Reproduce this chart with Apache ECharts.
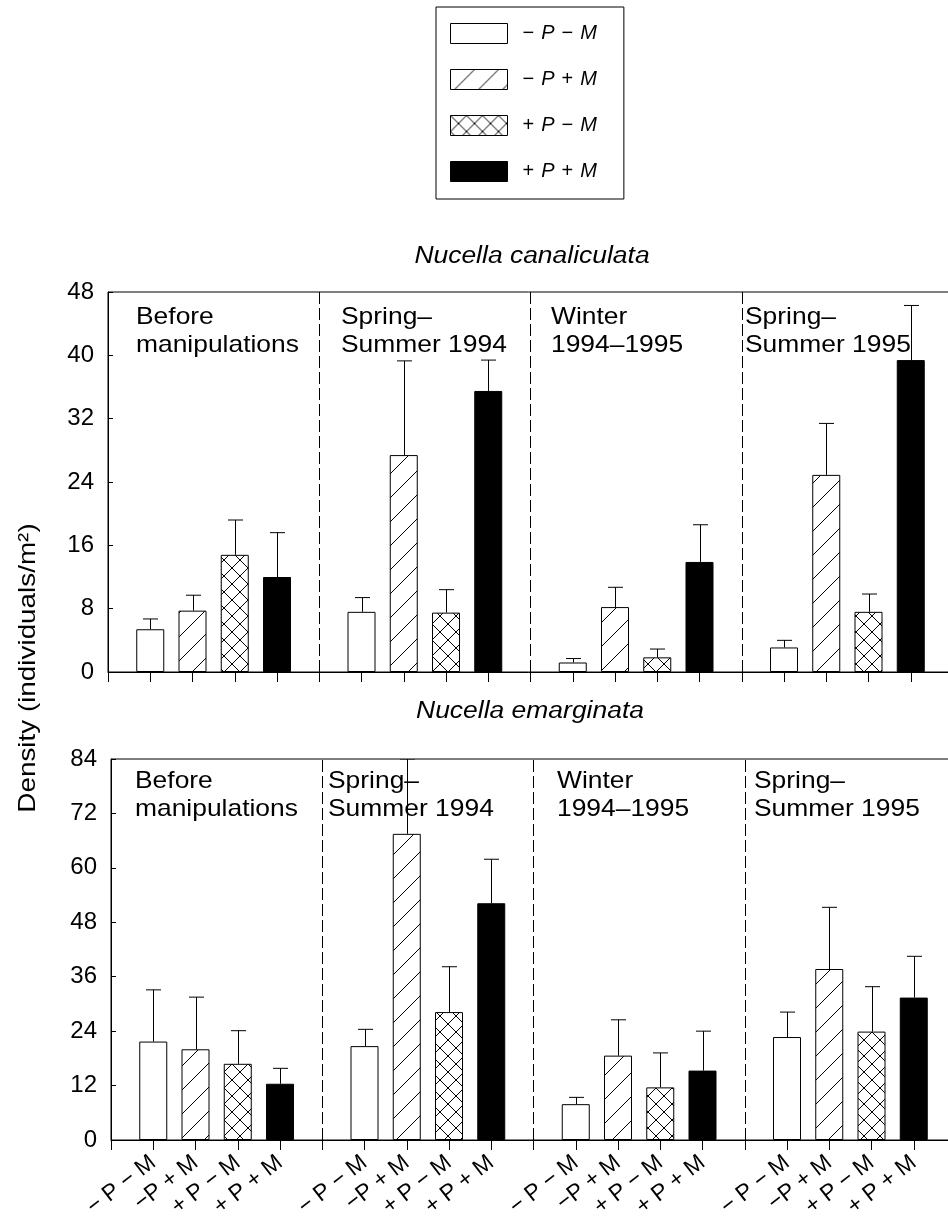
<!DOCTYPE html>
<html>
<head>
<meta charset="utf-8">
<script src="https://cdn.jsdelivr.net/npm/echarts@6/dist/echarts.min.js"></script>
<style>
  html, body { margin: 0; padding: 0; background: #fff; }
  #main { width: 948px; height: 1220px; }
</style>
</head>
<body>
<div id="main"></div>
<script>
// treatments and sampling periods
const treatments = ['− P − M', '−P + M', '+ P − M', '+ P + M'];
const periods = ['Before\nmanipulations', 'Spring–\nSummer 1994', 'Winter\n1994–1995', 'Spring–\nSummer 1995'];

// Nucella canaliculata: mean density per period, and top of error bar
const canalNoPNoM = [5.4, 7.6, 1.2, 3.1];
const canalNoPM   = [7.75, 27.4, 8.2, 24.9];
const canalPNoM   = [14.8, 7.5, 1.85, 7.6];
const canalPM     = [12.0, 35.5, 13.9, 39.4];
const canalNoPNoMTop = [6.7, 9.4, 1.7, 4.0];
const canalNoPMTop   = [9.7, 39.3, 10.7, 31.4];
const canalPNoMTop   = [19.2, 10.4, 2.9, 9.85];
const canalPMTop     = [17.6, 39.4, 18.6, 46.3];

// Nucella emarginata
const emargNoPNoM = [21.7, 20.7, 7.9, 22.7];
const emargNoPM   = [20.0, 67.5, 18.6, 37.7];
const emargPNoM   = [16.8, 28.2, 11.6, 23.9];
const emargPM     = [12.4, 52.2, 15.3, 31.4];
const emargNoPNoMTop = [33.1, 24.4, 9.4, 28.2];
const emargNoPMTop   = [31.5, 84, 26.5, 51.3];
const emargPNoMTop   = [24.1, 38.2, 19.2, 33.8];
const emargPMTop     = [15.8, 61.9, 24.0, 40.5];

const canalTicks = [0, 8, 16, 24, 32, 40, 48];
const emargTicks = [0, 12, 24, 36, 48, 60, 72, 84];

const FONT = '"Liberation Sans", Arial, sans-serif';

// hatch fills
function hatch(size, cross) {
  const c = document.createElement('canvas');
  c.width = c.height = size;
  const ctx = c.getContext('2d');
  ctx.fillStyle = '#fff';
  ctx.fillRect(0, 0, size, size);
  ctx.strokeStyle = '#000';
  ctx.lineWidth = 1;
  ctx.beginPath();
  for (const o of [-size, 0, size]) {
    ctx.moveTo(o, size); ctx.lineTo(o + size, 0);
    if (cross) { ctx.moveTo(o, 0); ctx.lineTo(o + size, size); }
  }
  ctx.stroke();
  return c;
}
const fills = [
  '#fff',
  { image: hatch(24, false), repeat: 'repeat' },
  { image: hatch(16, true), repeat: 'repeat' },
  '#000'
];

// x position of bar i in period g: groups of 5 slots, separators at 5, 10, 15
const xpos = (g, i) => g * 5 + i + 1;

const chart = echarts.init(document.getElementById('main'));

function barSeries(gi, name, i, vals, withSep) {
  const s = {
    type: 'bar',
    name: name,
    xAxisIndex: gi,
    yAxisIndex: gi,
    barWidth: 28,
    barGap: '-100%',
    data: vals.map((v, g) => [xpos(g, i), v]),
    itemStyle: { color: fills[i], borderColor: '#000', borderWidth: 1 },
    emphasis: { disabled: true },
    z: 3
  };
  if (withSep) {
    s.markLine = {
      silent: true,
      symbol: 'none',
      label: { show: false },
      lineStyle: { color: '#000', type: [12, 4], width: 1 },
      data: [{ xAxis: 5 }, { xAxis: 10 }, { xAxis: 15 }]
    };
  }
  return s;
}

function errSeries(gi, i, vals, tops) {
  return {
    type: 'custom',
    xAxisIndex: gi,
    yAxisIndex: gi,
    clip: true,
    silent: true,
    z: 4,
    data: vals.map((v, g) => [xpos(g, i), v, tops[g]]),
    renderItem: (params, api) => {
      const p0 = api.coord([api.value(0), api.value(1)]);
      const p1 = api.coord([api.value(0), api.value(2)]);
      const x = Math.round(p0[0]) + 0.5;
      const st = { stroke: '#000', lineWidth: 1 };
      return {
        type: 'group',
        children: [
          { type: 'line', shape: { x1: x, y1: p0[1], x2: x, y2: p1[1] }, style: st },
          { type: 'line', shape: { x1: x - 7.5, y1: p1[1], x2: x + 7.5, y2: p1[1] }, style: st }
        ]
      };
    }
  };
}

function xAxisFor(gi, showLabels) {
  return {
    type: 'value',
    gridIndex: gi,
    min: 0,
    max: 20,
    interval: 1,
    splitLine: { show: false },
    axisLine: { lineStyle: { color: '#000', width: 1 } },
    axisTick: { length: 10, lineStyle: { color: '#000' } },
    axisLabel: {
      show: showLabels,
      rotate: 38,
      margin: 20,
      fontSize: 23,
      fontFamily: FONT,
      color: '#000',
      formatter: v => (v % 5 === 0 ? '' : treatments[(v % 5) - 1])
    }
  };
}

function yAxisFor(gi, ticks) {
  return {
    type: 'value',
    gridIndex: gi,
    min: ticks[0],
    max: ticks[ticks.length - 1],
    interval: ticks[1] - ticks[0],
    splitLine: { show: false },
    axisLine: { show: true, lineStyle: { color: '#000', width: 1 } },
    axisTick: { show: true, inside: true, length: 5, lineStyle: { color: '#000' } },
    axisLabel: { fontSize: 24, fontFamily: FONT, color: '#000', margin: 14 }
  };
}

const canal = [canalNoPNoM, canalNoPM, canalPNoM, canalPM];
const canalTop = [canalNoPNoMTop, canalNoPMTop, canalPNoMTop, canalPMTop];
const emarg = [emargNoPNoM, emargNoPM, emargPNoM, emargPM];
const emargTop = [emargNoPNoMTop, emargNoPMTop, emargPNoMTop, emargPMTop];

const series = [];
treatments.forEach((t, i) => {
  series.push(barSeries(0, t, i, canal[i], i === 0));
  series.push(errSeries(0, i, canal[i], canalTop[i]));
  series.push(barSeries(1, t, i, emarg[i], i === 0));
  series.push(errSeries(1, i, emarg[i], emargTop[i]));
});

function periodText(x, y, text) {
  return {
    type: 'text', x: x, y: y, scaleX: 1.1, z: 10,
    style: { text: text, font: '24px ' + FONT, fill: '#000', lineHeight: 28, verticalAlign: 'top' }
  };
}
const topLabelX = [136, 341, 551, 745];
const botLabelX = [135, 328, 557, 754];

const graphics = [
  { type: 'text', x: 532, y: 257, scaleX: 1.15,
    style: { text: 'Nucella canaliculata', font: 'italic 23px ' + FONT, fill: '#000', align: 'center', verticalAlign: 'middle' } },
  { type: 'text', x: 530, y: 712, scaleX: 1.15,
    style: { text: 'Nucella emarginata', font: 'italic 23px ' + FONT, fill: '#000', align: 'center', verticalAlign: 'middle' } },
  { type: 'text', x: 28, y: 668, rotation: Math.PI / 2, scaleX: 1.16,
    style: { text: 'Density (individuals/m²)', font: '24px ' + FONT, fill: '#000', align: 'center', verticalAlign: 'middle' } }
];
periods.forEach((p, g) => {
  graphics.push(periodText(topLabelX[g], 303, p));
  graphics.push(periodText(botLabelX[g], 767, p));
});

chart.setOption({
  animation: false,
  backgroundColor: '#fff',
  textStyle: { fontFamily: FONT },
  legend: {
    orient: 'vertical',
    left: 436,
    top: 7,
    icon: 'rect',
    itemWidth: 57,
    itemHeight: 20,
    itemGap: 25,
    padding: [16, 27, 17, 14],
    borderColor: '#000',
    borderWidth: 1,
    selectedMode: false,
    itemStyle: { borderColor: '#000', borderWidth: 1 },
    data: treatments,
    formatter: name => {
      const c = name.replace(/\s/g, '');
      return '{o|' + c[0] + '}{i|P}{o|' + c[2] + '}{i|M}';
    },
    textStyle: {
      fontSize: 20, fontFamily: FONT, color: '#000', lineHeight: 20, padding: [0, 0, 0, 3],
      rich: {
        o: { fontSize: 20, fontFamily: FONT, color: '#000', lineHeight: 20, padding: [0, 7, 0, 7] },
        i: { fontStyle: 'italic', fontSize: 20, fontFamily: FONT, color: '#000', lineHeight: 20 }
      }
    }
  },
  grid: [
    { left: 108, top: 292, width: 845, height: 380, outerBoundsMode: 'none', containLabel: false,
      show: true, borderColor: '#000', borderWidth: 1, backgroundColor: 'transparent' },
    { left: 111, top: 759, width: 845, height: 381, outerBoundsMode: 'none', containLabel: false,
      show: true, borderColor: '#000', borderWidth: 1, backgroundColor: 'transparent' }
  ],
  xAxis: [xAxisFor(0, false), xAxisFor(1, true)],
  yAxis: [yAxisFor(0, canalTicks), yAxisFor(1, emargTicks)],
  graphic: graphics,
  series: series
});
</script>
</body>
</html>
